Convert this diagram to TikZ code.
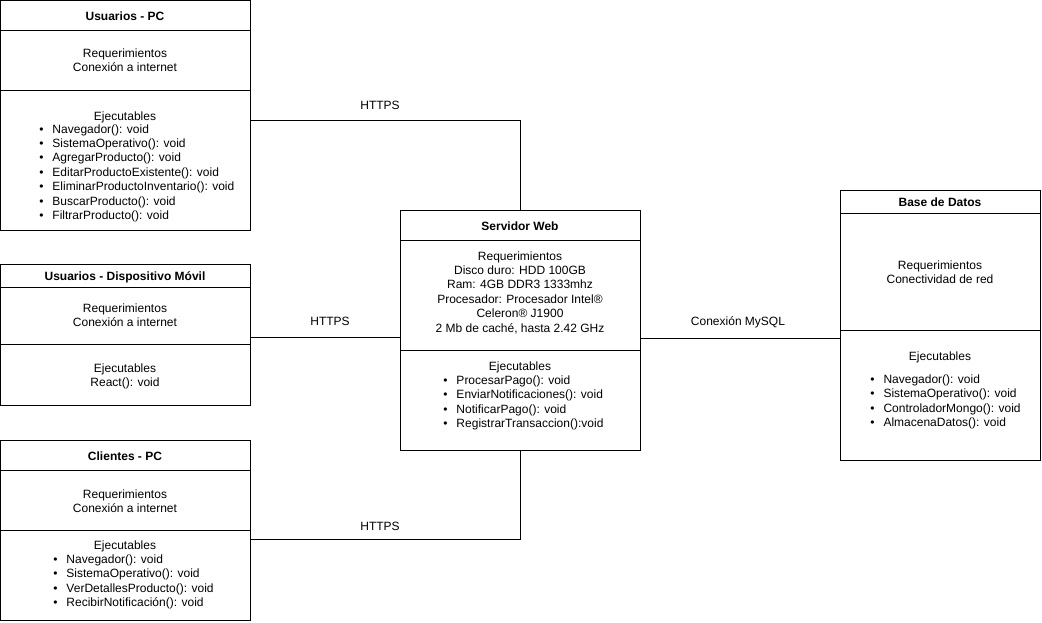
\documentclass[tikz,border=0pt]{standalone}
\usepackage{fontspec}
\setmainfont{Liberation Sans}
\newcommand\bul{\makebox[13.1pt][l]{\textbullet}}
\begin{document}
\begin{tikzpicture}[x=1pt,y=-1pt,line width=1pt,
  box/.style={draw,rectangle,inner sep=0,outer sep=0,anchor=north west},
  txt/.style={inner sep=0,anchor=base,font=\fontsize{12}{14.4}\selectfont,yshift=-0.8pt},
  ttl/.style={inner sep=0,anchor=base,font=\fontsize{12}{14.4}\selectfont\bfseries,yshift=-0.8pt},
  itm/.style={inner sep=0,anchor=base west,font=\fontsize{12}{14.4}\selectfont,yshift=-1pt}]
\useasboundingbox (0,0) rectangle (1042,622);

% ---------- Usuarios - PC
\node[box,minimum width=249.5pt,minimum height=229.5pt] (up) at (0.5,0.5) {};
\draw (up.west |- 0,30) -- (up.east |- 0,30);
\draw (up.west |- 0,90) -- (up.east |- 0,90);
\node[ttl] (upt) at (125,19.3) {Usuarios - PC};
\node[txt] (upr1) at (125,56.3) {Requerimientos};
\node[txt] (upr2) at (125,70.7) {Conexión a internet};
\node[txt] (upe) at (125,119.3) {Ejecutables};
\foreach \t [count=\i] in {Navegador(): void,SistemaOperativo(): void,AgregarProducto(): void,EditarProductoExistente(): void,EliminarProductoInventario(): void,BuscarProducto(): void,FiltrarProducto(): void}
  \node[itm] (upx\i) at (38.9,{132.0+14.43*(\i-1)}) {\bul\t};

% ---------- Usuarios - Dispositivo Movil
\node[box,minimum width=249.5pt,minimum height=140.5pt] (mov) at (0.5,264.5) {};
\draw (mov.west |- 0,287.5) -- (mov.east |- 0,287.5);
\draw (mov.west |- 0,344.5) -- (mov.east |- 0,344.5);
\node[ttl] (movt) at (125,280) {Usuarios - Dispositivo Móvil};
\node[txt] (movr1) at (125,311.3) {Requerimientos};
\node[txt] (movr2) at (125,325.7) {Conexión a internet};
\node[txt] (move1) at (125,371.3) {Ejecutables};
\node[txt] (move2) at (125,385.7) {React(): void};

% ---------- Clientes - PC
\node[box,minimum width=249.5pt,minimum height=179.5pt] (cli) at (0.5,440.5) {};
\draw (cli.west |- 0,470) -- (cli.east |- 0,470);
\draw (cli.west |- 0,530) -- (cli.east |- 0,530);
\node[ttl] (clit) at (125,460) {Clientes - PC};
\node[txt] (clir1) at (125,497.3) {Requerimientos};
\node[txt] (clir2) at (125,511.7) {Conexión a internet};
\node[txt] (clie) at (125,548.3) {Ejecutables};
\foreach \t [count=\i] in {Navegador(): void,SistemaOperativo(): void,VerDetallesProducto(): void,RecibirNotificación(): void}
  \node[itm] (clix\i) at (52.9,{562.5+14.43*(\i-1)}) {\bul\t};

% ---------- Servidor Web
\node[box,minimum width=240pt,minimum height=240pt] (srv) at (400,210) {};
\draw (srv.west |- 0,240) -- (srv.east |- 0,240);
\draw (srv.west |- 0,350) -- (srv.east |- 0,350);
\node[ttl] (srvt) at (520,229.3) {Servidor Web};
\foreach \t [count=\i] in {Requerimientos,Disco duro: HDD 100GB,Ram: 4GB DDR3 1333mhz,Procesador: Procesador Intel®,Celeron® J1900,{2 Mb de caché, hasta 2.42 GHz}}
  \node[txt] (srvr\i) at (520,{259.3+14.4*(\i-1)}) {\t};
\node[txt] (srve) at (520,369.3) {Ejecutables};
\foreach \t [count=\i] in {ProcesarPago(): void,EnviarNotificaciones(): void,NotificarPago(): void,RegistrarTransaccion():void}
  \node[itm] (srvx\i) at (442.9,{383.5+14.43*(\i-1)}) {\bul\t};

% ---------- Base de Datos
\node[box,minimum width=200pt,minimum height=270pt] (db) at (840,190) {};
\draw (db.west |- 0,213) -- (db.east |- 0,213);
\draw (db.west |- 0,330) -- (db.east |- 0,330);
\node[ttl] (dbt) at (940,206) {Base de Datos};
\node[txt] (dbr1) at (940,268.3) {Requerimientos};
\node[txt] (dbr2) at (940,282.7) {Conectividad de red};
\node[txt] (dbe) at (940,359.3) {Ejecutables};
\foreach \t [count=\i] in {Navegador(): void,SistemaOperativo(): void,ControladorMongo(): void,AlmacenaDatos(): void}
  \node[itm] (dbx\i) at (869.9,{382.5+14.43*(\i-1)}) {\bul\t};

% ---------- connectors
\draw (up.east |- 0,120) -| (srv.north);
\draw (mov.east |- 0,337) -- (srv.west |- 0,337);
\draw (cli.east |- 0,539) -| (srv.south);
\draw (srv.east |- 0,338) -- (db.west |- 0,338);
\node[txt] (l1) at (380,108.3) {HTTPS};
\node[txt] (l2) at (330,324.3) {HTTPS};
\node[txt] (l3) at (380,529.3) {HTTPS};
\node[txt] (l4) at (738,324.3) {Conexión MySQL};
\end{tikzpicture}
\end{document}
